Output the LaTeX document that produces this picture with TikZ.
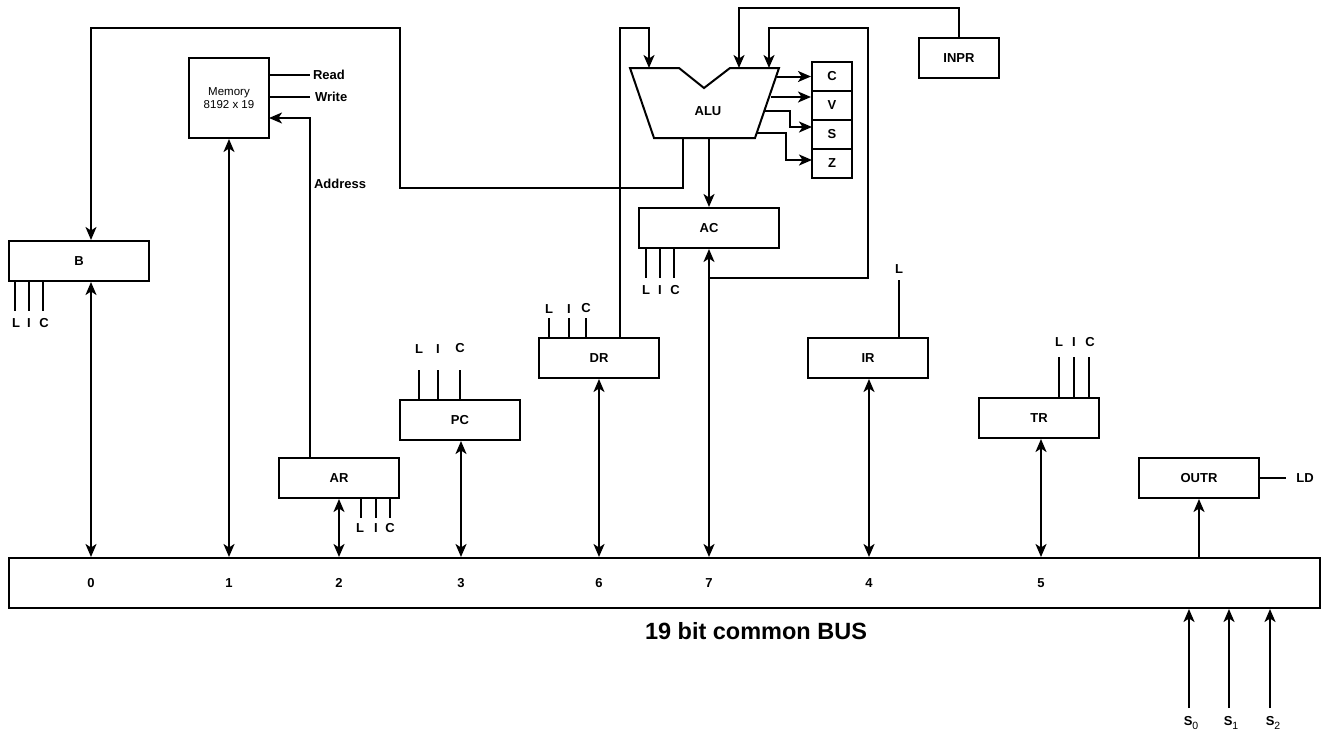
\documentclass[tikz,border=0pt]{standalone}
\usepackage{fontspec}
\setmainfont{Liberation Sans}
\usetikzlibrary{arrows.meta}
\newcommand{\mysub}[1]{\raisebox{-3.5pt}{\fontsize{10.5}{12}\selectfont\mdseries #1}}
\begin{document}
\begin{tikzpicture}[x=1pt,y=-1pt,
  line width=2pt,
  reg/.style={draw, rectangle, minimum width=120pt, minimum height=40pt, inner sep=0pt,
    font=\fontsize{13}{15}\selectfont\bfseries},
  lbl/.style={font=\fontsize{13}{15}\selectfont\bfseries, inner sep=1pt},
  arr/.style={-{Stealth[length=13pt,width=11pt,inset=3.5pt]}},
  darr/.style={{Stealth[length=13pt,width=11pt,inset=3.5pt]}-{Stealth[length=13pt,width=11pt,inset=3.5pt]}},
]
\useasboundingbox (0,0) rectangle (1326,742);

% ---------- bus ----------
\node[reg, minimum width=1311pt, minimum height=50pt] (bus) at (664.5,583) {};
\node[lbl] (n0) at (91,583) {0};
\node[lbl] (n1) at (229,583) {1};
\node[lbl] (n2) at (339,583) {2};
\node[lbl] (n3) at (461,583) {3};
\node[lbl] (n6) at (599,583) {6};
\node[lbl] (n7) at (709,583) {7};
\node[lbl] (n4) at (869,583) {4};
\node[lbl] (n5) at (1041,583) {5};
\node[font=\fontsize{23.5}{26}\selectfont\bfseries] (title) at (756,631) {19 bit common BUS};

% ---------- registers ----------
\node[reg, minimum width=140pt] (B) at (79,261) {B};
\node[reg, minimum width=80pt, minimum height=80pt, align=center,
  font=\fontsize{11.5}{13.5}\selectfont] (mem) at (229,98) {Memory\\8192 x 19};
\node[reg] (AR) at (339,478) {AR};
\node[reg] (PC) at (460,420) {PC};
\node[reg] (DR) at (599,358) {DR};
\node[reg, minimum width=140pt] (AC) at (709,228) {AC};
\node[reg] (IR) at (868,358) {IR};
\node[reg] (TR) at (1039,418) {TR};
\node[reg] (OUTR) at (1199,478) {OUTR};
\node[reg, minimum width=80pt] (INPR) at (959,58) {INPR};

% flags
\node[reg, minimum width=40pt, minimum height=29pt] (C) at (832,76.5) {C};
\node[reg, minimum width=40pt, minimum height=29pt] (V) at (832,105.5) {V};
\node[reg, minimum width=40pt, minimum height=29pt] (S) at (832,134.5) {S};
\node[reg, minimum width=40pt, minimum height=29pt] (Z) at (832,163.5) {Z};

% ALU
\draw[line join=miter] (630,68) -- (679,68) -- (704,88) -- (730,68) -- (779,68) -- (755,138) -- (654,138) -- cycle;
\node[lbl] (alu) at (708,111) {ALU};
\coordinate (aluInA) at (649,68);
\coordinate (aluInB) at (739,68);
\coordinate (aluInC) at (769,68);
\coordinate (aluOut) at (709,138);
\coordinate (aluOutB) at (683,138);

% ---------- bus connections ----------
\draw[darr] (B.south -| n0) -- (bus.north -| n0);
\draw[darr] (mem.south -| n1) -- (bus.north -| n1);
\draw[darr] (AR.south -| n2) -- (bus.north -| n2);
\draw[darr] (PC.south -| n3) -- (bus.north -| n3);
\draw[darr] (DR.south -| n6) -- (bus.north -| n6);
\draw[darr] (AC.south -| n7) -- (bus.north -| n7);
\draw[darr] (IR.south -| n4) -- (bus.north -| n4);
\draw[darr] (TR.south -| n5) -- (bus.north -| n5);
\draw[arr] (bus.north -| OUTR) -- (OUTR.south);

% ---------- ALU -> B ----------
\draw[arr] (aluOutB) -- (683,188) -- (400,188) -- (400,28) -- (91,28) -- (B.north -| n0);

% ---------- memory ----------
\node[lbl, anchor=west] (read) at (311,75) {Read};
\node[lbl, anchor=west] (write) at (313,97) {Write};
\draw (mem.east |- read) -- ++(40,0);
\draw (mem.east |- write) -- ++(40,0);
\coordinate (arOut) at (310,458);
\coordinate (memIn) at (269,118);
\draw[arr] (arOut) |- (memIn);
\node[lbl, anchor=west] (addr) at (312,184) {Address};

% ---------- ALU -> AC, flags ----------
\draw[arr] (aluOut) -- (AC.north);
\coordinate (cOut) at (777,76.5);
\coordinate (vOut) at (771,97);
\coordinate (sOut) at (764,111);
\coordinate (zOut) at (757,133);
\draw[arr] (cOut) -- (C.west);
\draw[arr] (vOut) -- (vOut -| V.west);
\draw[arr] (sOut) -- (790,111) -- (790,127) -- (812,127);
\draw[arr] (zOut) -- (786,133) -- (786,160) -- (812,160);

% ---------- DR -> ALU ----------
\coordinate (drOut) at (620,338);
\draw[arr] (drOut) -- (620,28) -- (649,28) -- (aluInA);

% ---------- AC -> ALU ----------
\coordinate (acFb) at (709,278);
\draw[arr] (acFb) -- (868,278) -- (868,28) -- (769,28) -- (aluInC);

% ---------- INPR -> ALU ----------
\draw[arr] (INPR.north) -- (959,8) -- (739,8) -- (aluInB);

% ---------- control lines L I C ----------
% B
\node[lbl] (BL) at (16,323) {L};
\node[lbl] (BI) at (29,323) {I};
\node[lbl] (BC) at (44,323) {C};
\draw (15,281) -- (15,311);
\draw (29,281) -- (29,311);
\draw (43,281) -- (43,311);
% AR
\node[lbl] (ARL) at (360,528) {L};
\node[lbl] (ARI) at (376,528) {I};
\node[lbl] (ARC) at (390,528) {C};
\draw (361,498) -- (361,518);
\draw (376,498) -- (376,518);
\draw (390,498) -- (390,518);
% PC
\node[lbl] (PCL) at (419,349) {L};
\node[lbl] (PCI) at (438,349) {I};
\node[lbl] (PCC) at (460,348) {C};
\draw (419,400) -- (419,370);
\draw (438,400) -- (438,370);
\draw (460,400) -- (460,370);
% DR
\node[lbl] (DRL) at (549,309) {L};
\node[lbl] (DRI) at (569,309) {I};
\node[lbl] (DRC) at (586,308) {C};
\draw (549,338) -- (549,318);
\draw (569,338) -- (569,318);
\draw (586,338) -- (586,318);
% AC
\node[lbl] (ACL) at (646,290) {L};
\node[lbl] (ACI) at (660,290) {I};
\node[lbl] (ACC) at (675,290) {C};
\draw (646,248) -- (646,278);
\draw (660,248) -- (660,278);
\draw (674,248) -- (674,278);
% IR
\node[lbl] (IRL) at (899,269) {L};
\draw (899,338) -- (899,280);
% TR
\node[lbl] (TRL) at (1059,342) {L};
\node[lbl] (TRI) at (1074,342) {I};
\node[lbl] (TRC) at (1090,342) {C};
\draw (1059,398) -- (1059,357);
\draw (1074,398) -- (1074,357);
\draw (1089,398) -- (1089,357);
% OUTR LD
\node[lbl] (LD) at (1305,478) {LD};
\draw (OUTR.east) -- (1286,478);

% ---------- select lines ----------
\node[lbl] (s0) at (1191,723) {S\mysub{0}};
\node[lbl] (s1) at (1231,723) {S\mysub{1}};
\node[lbl] (s2) at (1273,723) {S\mysub{2}};
\coordinate (c0) at (1189,708);
\coordinate (c1) at (1229,708);
\coordinate (c2) at (1270,708);
\draw[arr] (c0) -- (c0 |- bus.south);
\draw[arr] (c1) -- (c1 |- bus.south);
\draw[arr] (c2) -- (c2 |- bus.south);
\end{tikzpicture}
\end{document}
